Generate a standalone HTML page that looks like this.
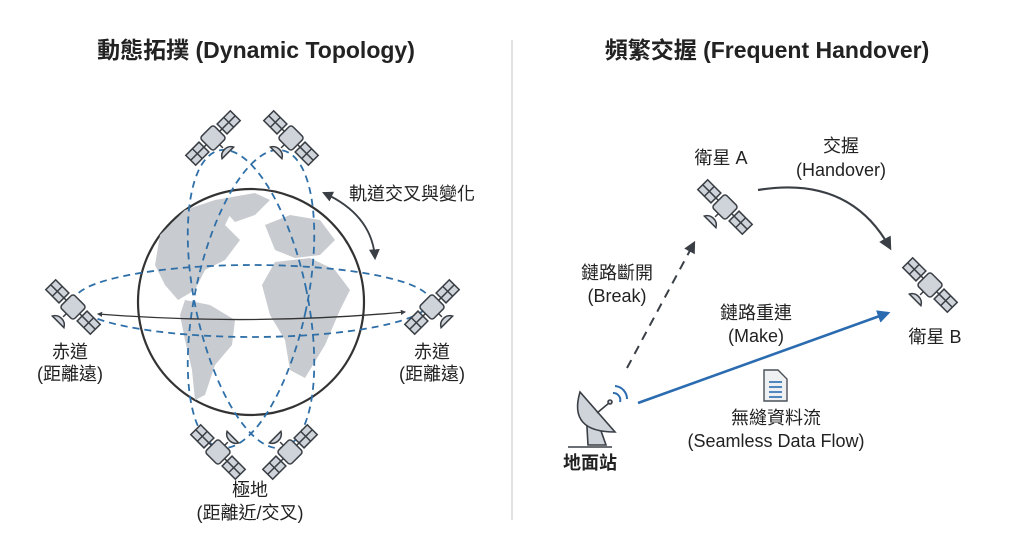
<!DOCTYPE html>
<html><head><meta charset="utf-8"><style>
body{margin:0;background:#fff;}
svg{display:block;font-family:"Liberation Sans","Noto Sans CJK TC",sans-serif;}
</style></head><body>
<svg width="1024" height="559" viewBox="0 0 1024 559" xmlns="http://www.w3.org/2000/svg">
<defs>
<symbol id="sat" viewBox="-30 -30 60 60" overflow="visible">
 <g stroke="#3a3f45" stroke-width="1.3" fill="#cfd4da">
  <rect x="-27" y="-6" width="16" height="12"/>
  <line x1="-19" y1="-6" x2="-19" y2="6"/><line x1="-27" y1="0" x2="-11" y2="0"/>
  <line x1="-11" y1="0" x2="-8" y2="0"/>
  <rect x="11" y="-6" width="16" height="12"/>
  <line x1="19" y1="-6" x2="19" y2="6"/><line x1="11" y1="0" x2="27" y2="0"/>
  <line x1="8" y1="0" x2="11" y2="0"/>
  <rect x="-8" y="-8" width="16" height="16" rx="2.5"/>
  <path d="M-7 18 A8 8 0 0 1 7 18 Z"/>
  <line x1="0" y1="8" x2="0" y2="12"/>
 </g>
</symbol>
<marker id="ah" viewBox="0 0 10 10" refX="8" refY="5" markerWidth="6" markerHeight="6" orient="auto-start-reverse"><path d="M0 0L10 5L0 10z" fill="#3a3f45"/></marker>
<marker id="ahs" viewBox="0 0 10 10" refX="8" refY="5" markerWidth="4" markerHeight="4" orient="auto-start-reverse"><path d="M0 0L10 5L0 10z" fill="#3a3f45"/></marker>
<marker id="ahb" viewBox="0 0 10 10" refX="8" refY="5" markerWidth="5" markerHeight="5" orient="auto"><path d="M0 0L10 5L0 10z" fill="#2b6cb0"/></marker>
</defs>

<text x="256" y="58" text-anchor="middle" font-size="23" font-weight="bold" fill="#222">動態拓撲 (Dynamic Topology)</text>
<text x="767" y="58" text-anchor="middle" font-size="23" font-weight="bold" fill="#222">頻繁交握 (Frequent Handover)</text>
<line x1="512" y1="40" x2="512" y2="520" stroke="#d8d8d8" stroke-width="1.5"/>

<!-- globe -->
<circle cx="251" cy="302" r="113" fill="#fff" stroke="#333" stroke-width="2.2"/>
<g fill="#c8cbcf">
 <path d="M160 235 L185 210 L215 200 L235 205 L225 225 L240 240 L225 260 L205 270 L195 290 L178 300 L165 285 L155 265 Z"/>
 <path d="M215 200 L255 193 L270 200 L255 215 L235 222 Z"/>
 <path d="M185 300 L210 305 L235 320 L232 345 L215 365 L205 395 L195 400 L192 370 L185 340 L180 315 Z"/>
 <path d="M265 225 L290 215 L320 220 L335 240 L320 255 L295 258 L275 250 Z"/>
 <path d="M275 262 L310 258 L335 270 L350 290 L340 310 L325 345 L305 378 L290 370 L285 340 L270 315 L262 285 Z"/>
</g>
<!-- orbits -->
<g fill="none" stroke="#2f6fa8" stroke-width="1.8" stroke-dasharray="7 5">
 <ellipse cx="251" cy="299" rx="56" ry="152" transform="rotate(-12 251 299)"/>
 <ellipse cx="251" cy="299" rx="56" ry="152" transform="rotate(12 251 299)"/>
 <ellipse cx="252" cy="301" rx="178" ry="36"/>
</g>
<path d="M98 314 Q252 326 405 312" fill="none" stroke="#333" stroke-width="1.3" marker-start="url(#ahs)" marker-end="url(#ahs)"/>
<path d="M324 193 Q372 215 375 258" fill="none" stroke="#3a3f45" stroke-width="1.8" marker-start="url(#ah)" marker-end="url(#ah)"/>

<use href="#sat" x="178" y="103" width="70" height="70" transform="rotate(-45 213 138)"/>
<use href="#sat" x="256" y="103" width="70" height="70" transform="rotate(45 291 138)"/>
<use href="#sat" x="38" y="272" width="70" height="70" transform="rotate(45 73 307)"/>
<use href="#sat" x="397" y="272" width="70" height="70" transform="rotate(-45 432 307)"/>
<use href="#sat" x="183" y="417" width="70" height="70" transform="rotate(225 218 452)"/>
<use href="#sat" x="255" y="417" width="70" height="70" transform="rotate(135 290 452)"/>

<g font-size="18" fill="#222" text-anchor="middle">
 <text x="412" y="200">軌道交叉與變化</text>
 <text x="70" y="358">赤道</text><text x="70" y="380">(距離遠)</text>
 <text x="432" y="358">赤道</text><text x="432" y="380">(距離遠)</text>
 <text x="250" y="496">極地</text><text x="250" y="519">(距離近/交叉)</text>
</g>

<!-- right -->
<use href="#sat" x="690" y="172" width="70" height="70" transform="rotate(45 725 207)"/>
<use href="#sat" x="895" y="250" width="70" height="70" transform="rotate(45 930 285)"/>
<path d="M758 190 Q850 175 890 248" fill="none" stroke="#3a3f45" stroke-width="2.2" marker-end="url(#ah)"/>
<line x1="627" y1="368" x2="694" y2="243" stroke="#3a3f45" stroke-width="2" stroke-dasharray="9 7" marker-end="url(#ah)"/>
<line x1="638" y1="403" x2="888" y2="313" stroke="#2b6cb0" stroke-width="2.6" marker-end="url(#ahb)"/>
<!-- dish -->
<g stroke="#3a3f45" stroke-width="1.6" fill="#cfd4da">
 <path d="M586 410 L600 428 L606 445 L588 445 Z"/>
 <path d="M580 392 Q568 432 615 432 Z"/>
 <line x1="568" y1="447" x2="612" y2="447"/>
 <line x1="597" y1="413" x2="609" y2="403"/>
 <circle cx="610" cy="402" r="2"/>
</g>
<g fill="none" stroke="#2b6cb0" stroke-width="2">
 <path d="M613 393 A7 7 0 0 1 620 402"/>
 <path d="M615 386 A13 13 0 0 1 627 399"/>
</g>
<!-- doc -->
<g stroke="#4a5058" stroke-width="1.4" fill="#eef0f2">
 <path d="M764 370 L778 370 L787 379 L787 401 L764 401 Z"/>
</g>
<g stroke="#2b6cb0" stroke-width="1.6"><line x1="769" y1="382" x2="782" y2="382"/><line x1="769" y1="387" x2="782" y2="387"/><line x1="769" y1="392" x2="782" y2="392"/><line x1="769" y1="397" x2="782" y2="397"/></g>

<g font-size="18" fill="#222" text-anchor="middle">
 <text x="721" y="164">衛星 A</text>
 <text x="841" y="152">交握</text><text x="841" y="176">(Handover)</text>
 <text x="617" y="279">鏈路斷開</text><text x="617" y="302">(Break)</text>
 <text x="756" y="319">鏈路重連</text><text x="756" y="342">(Make)</text>
 <text x="935" y="343">衛星 B</text>
 <text x="776" y="424">無縫資料流</text><text x="776" y="447">(Seamless Data Flow)</text>
 <text x="590" y="469" font-weight="bold">地面站</text>
</g>
</svg>
</body></html>
